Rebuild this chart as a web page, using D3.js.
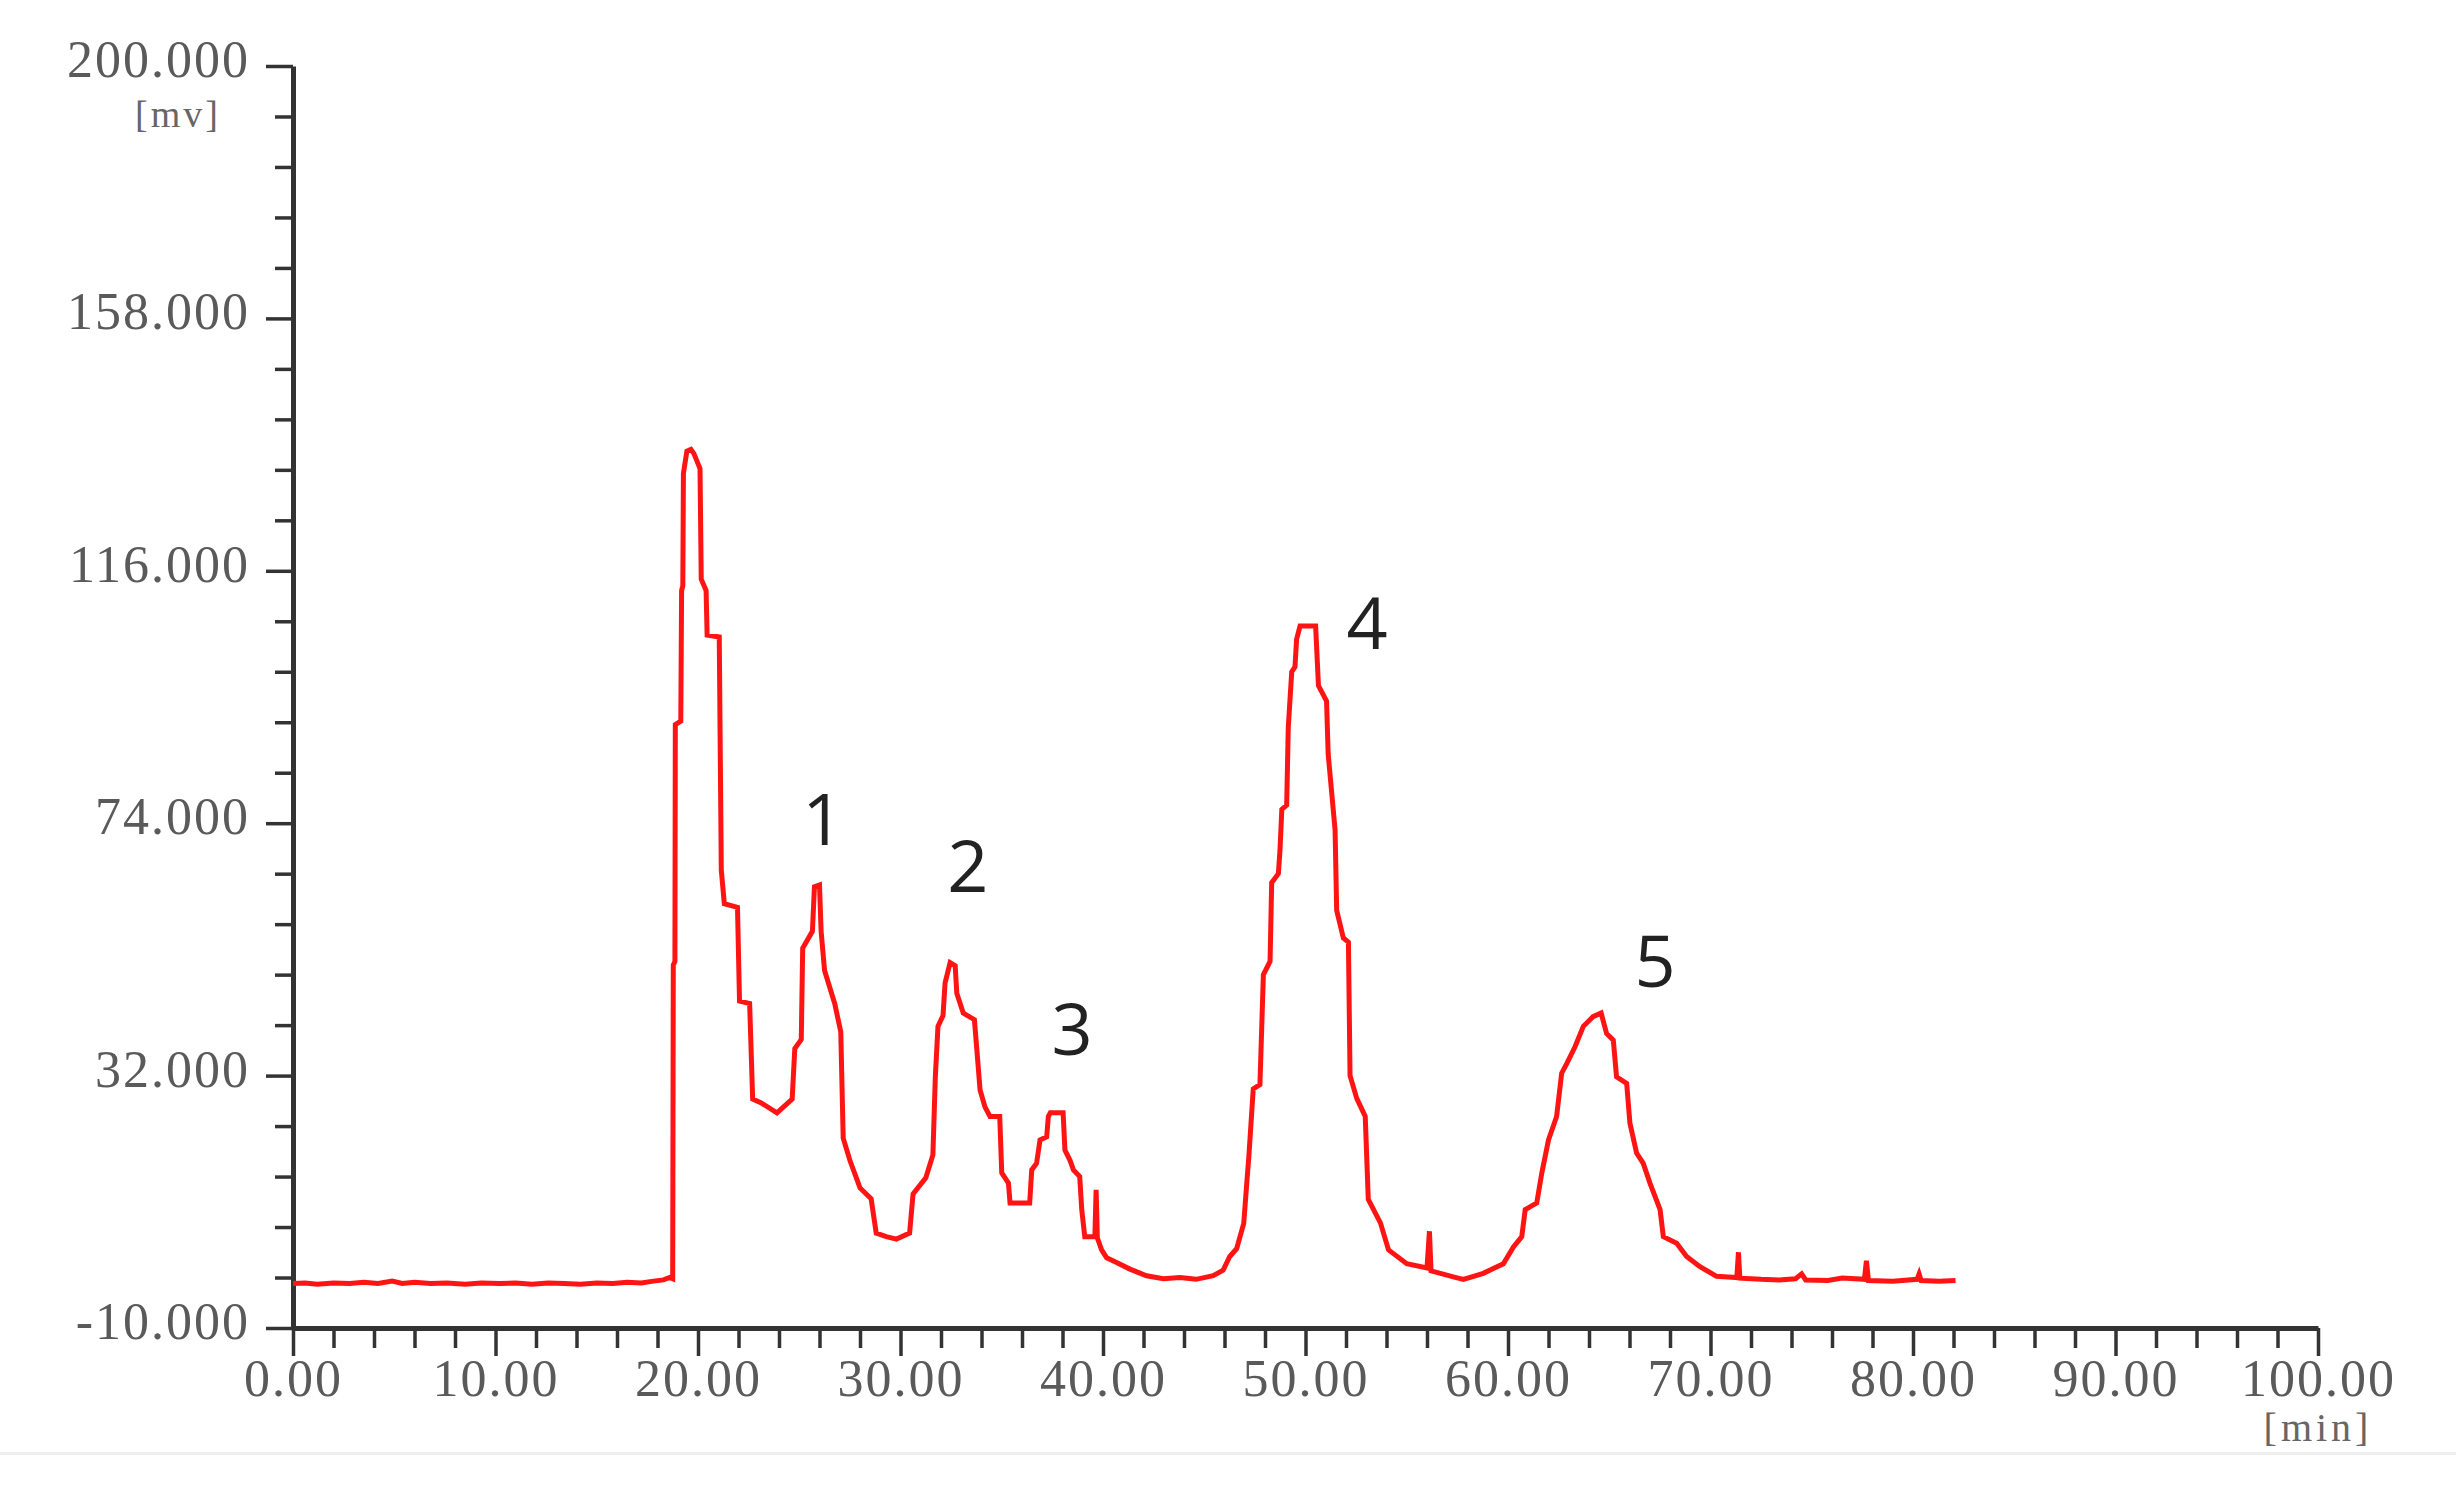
<!DOCTYPE html>
<html>
<head>
<meta charset="utf-8">
<script src="https://cdn.jsdelivr.net/npm/d3@7"></script>
<style>
  html, body { margin: 0; padding: 0; background: #ffffff; }
  svg { display: block; }
</style>
</head>
<body>
<svg id="chart" width="2456" height="1486"></svg>
<script>
// ---- data ----
const timeMin = [
  0, 0.6, 1.2, 2.0, 2.8, 3.5, 4.2, 4.9, 5.4, 6.0, 6.8, 7.6, 8.5, 9.3, 10.2, 11.0, 11.8, 12.6, 13.4, 14.2,
  15.0, 15.8, 16.5, 17.2, 17.8, 18.3, 18.6, 18.75,
  18.78, 18.86, 18.88, 19.15, 19.19, 19.25, 19.28, 19.45, 19.65, 19.8, 20.1, 20.16, 20.4, 20.45, 21.05, 21.15,
  21.3, 21.95, 22.05, 22.55, 22.7, 23.1, 23.9, 24.65, 24.78, 25.1, 25.17, 25.65, 25.75, 26.0, 26.08, 26.25,
  26.75, 27.05, 27.17, 27.5, 28.0, 28.55, 28.8, 29.3, 29.8, 30.45, 30.62, 31.25, 31.6, 31.72, 31.85, 32.1,
  32.2, 32.45, 32.7, 32.78, 33.1, 33.65, 33.77, 33.93, 34.17, 34.42, 34.9, 35.0, 35.33, 35.41, 36.38, 36.48,
  36.72, 36.89, 37.22, 37.3, 37.4, 38.03, 38.12, 38.37, 38.54, 38.85, 38.95, 39.1, 39.6, 39.66, 39.72, 39.93,
  40.18, 40.67, 41.33, 42.15, 42.98, 43.8, 44.6, 45.44, 45.93, 46.26, 46.6, 46.95, 47.1, 47.2, 47.42, 47.75,
  47.92, 48.25, 48.33, 48.66, 48.74, 48.83, 49.07, 49.15, 49.32, 49.48, 49.56, 49.73, 50.5, 50.64, 51.04, 51.12,
  51.46, 51.54, 51.87, 52.12, 52.2, 52.53, 52.95, 53.1, 53.7, 54.1, 55.0, 56.0, 56.12, 56.2, 57.3, 57.8,
  58.78, 59.77, 60.27, 60.68, 60.85, 61.42, 61.67, 62.0, 62.4, 62.65, 62.9, 63.31, 63.72, 64.2, 64.6, 64.75,
  64.87, 65.2, 65.36, 65.86, 66.02, 66.35, 66.68, 67.01, 67.51, 67.67, 68.33, 68.82, 69.48, 70.3, 71.3, 71.38,
  71.45, 72.5, 73.4, 74.2, 74.5, 74.7, 75.8, 76.5, 77.6, 77.7, 77.8, 79.0, 80.2, 80.3, 80.4, 81.3, 82.1
];
const signalMv = [
  -2.6, -2.5, -2.7, -2.5, -2.6, -2.4, -2.6, -2.2, -2.6, -2.4, -2.6, -2.5, -2.7, -2.5, -2.6, -2.5, -2.7, -2.5, -2.6, -2.7,
  -2.5, -2.6, -2.4, -2.5, -2.2, -2.0, -1.6, -1.8,
  50.4, 51, 90.4, 91, 112.7, 113.5, 132.2, 135.9, 136.2, 135.5, 133, 114.6, 112.7, 105.3, 105, 66.2,
  60.6, 60, 44.4, 44, 28.1, 27.5, 25.8, 28.1, 36.5, 38, 53.2, 56, 63.4, 63.7, 56, 49.5,
  44, 39.3, 21.6, 17.9, 13.3, 11.5, 5.8, 5.2, 4.8, 5.8, 12.3, 15, 18.8, 31.8, 40.2, 42,
  47.4, 50.8, 50.3, 45.7, 42.4, 41.3, 36.3, 29.6, 26.8, 25.2, 25.2, 15.8, 14.1, 10.8, 10.8, 16.3,
  17.4, 21.3, 21.8, 25.2, 25.8, 25.8, 19.6, 17.9, 16.3, 15.2, 9.7, 5.2, 5.2, 13, 5, 3,
  1.7, 0.9, -0.2, -1.3, -1.8, -1.6, -1.9, -1.3, -0.4, 1.9, 3.2, 7.4, 14.1, 18.4, 29.8, 30.5,
  48.8, 51, 64.1, 65.6, 69.5, 76.3, 77, 90, 99.2, 100, 104.6, 106.8, 106.8, 96.9, 94.3, 85.5,
  72.9, 59.5, 54.9, 54.2, 32, 28.2, 25.2, 11.4, 7.5, 3, 0.7, 0, 6.1, -0.5, -1.5, -1.9,
  -0.9, 0.7, 3.5, 5.2, 9.7, 10.8, 15.8, 21.3, 25.2, 32.4, 34, 36.8, 40.2, 41.8, 42.4, 40.5,
  39, 37.9, 31.8, 30.7, 24.1, 19.1, 17.4, 14.1, 9.7, 5.2, 4.1, 1.9, 0.2, -1.4, -1.6, 2.6,
  -1.7, -1.9, -2.0, -1.8, -1.0, -2.0, -2.1, -1.7, -1.9, 1.2, -2.1, -2.2, -1.9, -1.0, -2.1, -2.2, -2.1
];

const xTickValues = [0, 10, 20, 30, 40, 50, 60, 70, 80, 90, 100];
const yTickValues = [-10, 32, 74, 116, 158, 200];
const xUnitLabel = "[min]";
const yUnitLabel = "[mv]";

const peakNames = ["1", "2", "3", "4", "5"];
const peakLabelTime = [26.17, 33.33, 38.47, 53.04, 67.26];
const peakLabelMv = [70.4, 62.6, 35.4, 103.0, 46.8];

// ---- chart ----
const svg = d3.select("#chart");
const x = d3.scaleLinear().domain([0, 100]).range([293, 2318]);
const y = d3.scaleLinear().domain([-10, 200]).range([1328, 66]);

const axisColor = "#333333";
const labelColor = "#5a5a5a";
const labelFont = "'Liberation Serif', 'DejaVu Serif', serif";
const fmtX = d => d3.format(".2f")(d).replace("\u2212", "-");
const fmtY = d => d3.format(".3f")(d).replace("\u2212", "-");

// faint scan edge near bottom
svg.append("rect").attr("x", 0).attr("y", 1452).attr("width", 2456).attr("height", 3).attr("fill", "#efefef");

// minor tick values
const xMinor = d3.range(0, 51).map(i => i * 2).filter(v => v % 10 !== 0);
const yMinor = d3.range(0, 26).map(i => -10 + i * 8.4).filter((v, i) => i % 5 !== 0);

// x axis minor
const gxMinor = svg.append("g")
  .attr("transform", `translate(0,${y(-10)})`)
  .call(d3.axisBottom(x).tickValues(xMinor).tickSize(20).tickSizeOuter(0).tickFormat(""));
gxMinor.select(".domain").remove();

// x axis major
const gx = svg.append("g")
  .attr("transform", `translate(0,${y(-10)})`)
  .call(d3.axisBottom(x).tickValues(xTickValues).tickSize(28).tickSizeOuter(0).tickPadding(3)
    .tickFormat(fmtX));

// y axis minor
const gyMinor = svg.append("g")
  .attr("transform", `translate(${x(0)},0)`)
  .call(d3.axisLeft(y).tickValues(yMinor).tickSize(18).tickSizeOuter(0).tickFormat(""));
gyMinor.select(".domain").remove();

// y axis major
const gy = svg.append("g")
  .attr("transform", `translate(${x(0)},0)`)
  .call(d3.axisLeft(y).tickValues(yTickValues).tickSize(27).tickSizeOuter(0).tickPadding(16)
    .tickFormat(fmtY));

[gx, gy, gxMinor, gyMinor].forEach(g => {
  g.selectAll(".tick line").attr("stroke", axisColor).attr("stroke-width", 3.5);
  g.selectAll(".domain").attr("stroke", axisColor).attr("stroke-width", 5);
  g.selectAll("text")
    .attr("fill", labelColor)
    .style("font-family", labelFont)
    .style("font-size", "52px")
    .style("letter-spacing", "2px");
});
gy.selectAll("text").attr("dy", "0.2em");

// unit labels
svg.append("text")
  .attr("x", x(0) - 115).attr("y", y(200) + 61)
  .attr("text-anchor", "middle")
  .attr("fill", "#666")
  .style("font-family", labelFont).style("font-size", "38px").style("letter-spacing", "3px")
  .text(yUnitLabel);

svg.append("text")
  .attr("x", x(100)).attr("y", y(-10) + 113)
  .attr("text-anchor", "middle")
  .attr("fill", "#666")
  .style("font-family", labelFont).style("font-size", "40px").style("letter-spacing", "4px")
  .text(xUnitLabel);

// trace
const pts = timeMin.map((t, i) => [t, signalMv[i]]);
const line = d3.line().x(d => x(d[0])).y(d => y(d[1])).curve(d3.curveLinear);
svg.append("path")
  .datum(pts)
  .attr("d", line)
  .attr("fill", "none")
  .attr("stroke", "#ff1414")
  .attr("stroke-width", 5)
  .attr("stroke-linejoin", "miter");

// peak labels
svg.append("g").selectAll("text")
  .data(peakNames)
  .join("text")
  .attr("x", (d, i) => x(peakLabelTime[i]))
  .attr("y", (d, i) => y(peakLabelMv[i]))
  .attr("text-anchor", "middle")
  .attr("fill", "#222")
  .style("font-family", "'Open Sans', 'Noto Sans', sans-serif")
  .style("font-size", "72px")
  .text(d => d);
</script>
</body>
</html>
